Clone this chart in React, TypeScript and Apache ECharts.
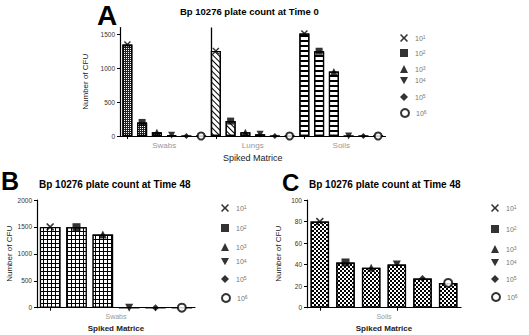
import React, { useEffect, useRef } from 'react';
import * as echarts from 'echarts';

// Dilution exponents (10^1 … 10^6)
const exponents = ['1', '2', '3', '4', '5', '6'];

// Time 0: spiked matrices and CFU per dilution
const time0Matrices = ['Swabs', 'Lungs', 'Soils'];
const time0Swabs = [1350, 200, 55, 12, 0, 0];
const time0Lungs = [1255, 220, 55, 25, 0, 0];
const time0Soils = [1510, 1250, 950, 0, 0, 0];

// Time 48
const time48SwabMatrix = ['Swabs'];
const time48Swabs = [1500, 1495, 1360, 0, 0, 0];
const time48SoilMatrix = ['Soils'];
const time48Soils = [80, 42, 37, 40, 27, 23];

const titleTime0 = 'Bp 10276 plate count at Time 0';
const titleTime48 = 'Bp 10276 plate count at Time 48';
const yName = 'Number of CFU';
const xName = 'Spiked Matrice';

const FONT = 'Liberation Sans, Arial, sans-serif';

const crossSymbol =
  'path://M0,1.4L1.4,0L5,3.6L8.6,0L10,1.4L6.4,5L10,8.6L8.6,10L5,6.4L1.4,10L0,8.6L3.6,5Z';
const downTriangle = 'path://M0,0L10,0L5,9Z';
const markerSymbols = [crossSymbol, 'rect', 'triangle', downTriangle, 'diamond', 'emptyCircle'];

// Fill patterns for the bars: each pairs a base fill with a decal drawn over it
const fillDots = {
  base: '#222',
  decal: { symbol: 'rect', symbolSize: 1, color: '#fff', dashArrayX: [1, 1], dashArrayY: [1, 1] },
};
const fillDiagonal = {
  base: '#fff',
  decal: {
    symbol: 'rect', symbolSize: 1, color: '#000',
    dashArrayX: [1, 0], dashArrayY: [1, 2.6], rotation: Math.PI / 4,
  },
};
const fillStripes = {
  base: '#fff',
  decal: { symbol: 'rect', symbolSize: 1, color: '#000', dashArrayX: [1, 0], dashArrayY: [2, 2.3] },
};
const fillGrid = {
  base: '#000',
  decal: { symbol: 'rect', symbolSize: 1, color: '#fff', dashArrayX: [3, 1], dashArrayY: [3, 1] },
};
const fillChecker = {
  base: '#fff',
  decal: {
    symbol: 'rect', symbolSize: 1, color: '#000',
    dashArrayX: [[2, 2], [0, 2, 2, 0]], dashArrayY: [2, 0],
  },
};

const seriesName = (e: string) => `10^${e}`;

function categoryLabels(matrices: string[]) {
  return matrices.flatMap((m) => exponents.map((e) => `${m} 10^${e}`));
}

function barSeries(xIdx: number, yIdx: number, groups: number[][], fills: any[], gap: string) {
  return {
    type: 'bar',
    xAxisIndex: xIdx,
    yAxisIndex: yIdx,
    barCategoryGap: gap,
    silent: true,
    itemStyle: { color: '#fff', borderColor: '#000', borderWidth: 1.2 },
    data: groups.flatMap((vals, g) =>
      vals.map((v) => ({
        value: v,
        itemStyle: { color: fills[g].base, decal: fills[g].decal },
      }))
    ),
  };
}

function markerSeries(xIdx: number, yIdx: number, groups: number[][], size: number) {
  return exponents.map((e, i) => ({
    type: 'scatter',
    name: seriesName(e),
    xAxisIndex: xIdx,
    yAxisIndex: yIdx,
    symbol: markerSymbols[i],
    symbolSize: i === 4 ? size - 1 : size,
    z: 5,
    itemStyle: { color: '#000', borderColor: '#000', borderWidth: i === 5 ? 1.3 : 0 },
    data: groups.map((vals, g) => [g * exponents.length + i, vals[i]]),
  }));
}

function legendItems(iconX: number, rowsY: number[]) {
  return exponents.map((e, i) => ({
    data: [seriesName(e)],
    left: iconX - 4,
    top: rowsY[i] - 5,
    padding: 0,
    itemWidth: 8,
    itemHeight: 8,
    selectedMode: false,
    formatter: (name: string) => `10{s|${name.split('^')[1]}}`,
    textStyle: {
      fontFamily: FONT,
      fontSize: 7,
      color: '#777',
      padding: [0, 0, 0, 2],
      rich: { s: { fontSize: 5, color: '#777', verticalAlign: 'top', lineHeight: 7 } },
    },
  }));
}

const axisLineStyle = { show: true, lineStyle: { color: '#000', width: 1.2 } };

function mainXAxis(grid: number, matrices: string[]) {
  return {
    gridIndex: grid,
    type: 'category',
    data: categoryLabels(matrices),
    axisLine: axisLineStyle,
    axisTick: { show: true, alignWithLabel: true, length: 3, lineStyle: { color: '#000' } },
    axisLabel: { show: false },
    splitLine: { show: false },
  };
}

function groupXAxis(grid: number, matrices: string[], bold: boolean, labelSize: number, nameSize: number) {
  return {
    gridIndex: grid,
    type: 'category',
    position: 'bottom',
    data: matrices,
    axisLine: { show: false },
    axisTick: { show: false },
    axisLabel: { fontFamily: FONT, fontSize: labelSize, color: '#999', margin: 5 },
    name: xName,
    nameLocation: 'middle',
    nameGap: 17,
    nameTextStyle: {
      fontFamily: FONT, fontSize: nameSize, color: '#222', fontWeight: bold ? 'bold' : 'normal',
    },
  };
}

function valueYAxis(grid: number, max: number, interval: number, nameGap: number) {
  return {
    gridIndex: grid,
    type: 'value',
    min: 0,
    max,
    interval,
    axisLine: axisLineStyle,
    axisTick: { show: true, length: 3, lineStyle: { color: '#000' } },
    axisLabel: {
      fontFamily: FONT, fontSize: 6.5, color: '#333', margin: 5,
      showMaxLabel: max % interval === 0,
      formatter: (v: number) => String(v),
    },
    splitLine: { show: false },
    name: yName,
    nameLocation: 'middle',
    nameGap,
    nameTextStyle: { fontFamily: FONT, fontSize: 8, color: '#222' },
  };
}

function panelTitle(text: string, left: number, top: number, size: number, lineHeight?: number) {
  return {
    text,
    left,
    top,
    padding: 0,
    textStyle: {
      fontFamily: FONT, fontSize: size, fontWeight: 'bold', color: '#000',
      lineHeight: lineHeight ?? Math.round(size * 1.2),
    },
  };
}

const time0Groups = [time0Swabs, time0Lungs, time0Soils];

const option: any = {
  animation: false,
  backgroundColor: '#fff',
  textStyle: { fontFamily: FONT },
  title: [
    panelTitle('A', 97, 5, 28, 20),
    panelTitle(titleTime0, 180, 6, 9.5),
    panelTitle('B', 1, 172, 25, 17),
    panelTitle(titleTime48, 39, 178, 10),
    panelTitle('C', 282, 174, 24, 17),
    panelTitle(titleTime48, 309, 178, 10),
  ],
  grid: [
    { left: 120, top: 27.5, width: 265.5, height: 108.5 },
    { left: 37, top: 200, width: 158, height: 107.7 },
    { left: 307, top: 200, width: 154, height: 107.7 },
  ],
  xAxis: [
    mainXAxis(0, time0Matrices),
    groupXAxis(0, time0Matrices, false, 8, 9),
    mainXAxis(1, time48SwabMatrix),
    groupXAxis(1, time48SwabMatrix, true, 7, 8),
    mainXAxis(2, time48SoilMatrix),
    groupXAxis(2, time48SoilMatrix, true, 7, 8),
  ],
  yAxis: [
    valueYAxis(0, 1600, 500, 19),
    valueYAxis(1, 2000, 500, 22),
    valueYAxis(2, 100, 20, 25),
  ],
  legend: [
    ...legendItems(404, [39, 54, 70, 82, 98, 113]),
    ...legendItems(225, [209, 229, 248, 263, 280, 298]),
    ...legendItems(495, [209, 230, 250, 264, 280, 297]),
  ],
  series: [
    barSeries(0, 0, time0Groups, [fillDots, fillDiagonal, fillStripes], '32%'),
    ...markerSeries(0, 0, time0Groups, 7),
    barSeries(2, 1, [time48Swabs], [fillGrid], '22%'),
    ...markerSeries(2, 1, [time48Swabs], 8),
    barSeries(4, 2, [time48Soils], [fillChecker], '28%'),
    ...markerSeries(4, 2, [time48Soils], 8),
  ],
};

export default function App() {
  const ref = useRef<HTMLDivElement>(null);
  useEffect(() => {
    document.body.style.margin = '0';
    const chart = echarts.init(ref.current!, null, { renderer: 'svg' });
    chart.setOption(option);

    // Vertical rule at the left edge of the first Lungs bar, full axis height
    const labels = categoryLabels(time0Matrices);
    const x6 = chart.convertToPixel({ xAxisIndex: 0 }, labels[6]) as number;
    const x5 = chart.convertToPixel({ xAxisIndex: 0 }, labels[5]) as number;
    const halfBar = ((x6 - x5) * 0.68) / 2;
    const yTop = chart.convertToPixel({ yAxisIndex: 0 }, 1600) as number;
    const yBase = chart.convertToPixel({ yAxisIndex: 0 }, 0) as number;
    const xr = Math.round(x6 - halfBar) + 0.5;
    chart.setOption({
      graphic: [
        {
          type: 'line',
          shape: { x1: xr, y1: yTop, x2: xr, y2: yBase },
          style: { stroke: '#000', lineWidth: 1.3 },
          z: 10,
        },
      ],
    });
    return () => chart.dispose();
  }, []);
  return <div ref={ref} style={{ width: 529, height: 335 }} />;
}
